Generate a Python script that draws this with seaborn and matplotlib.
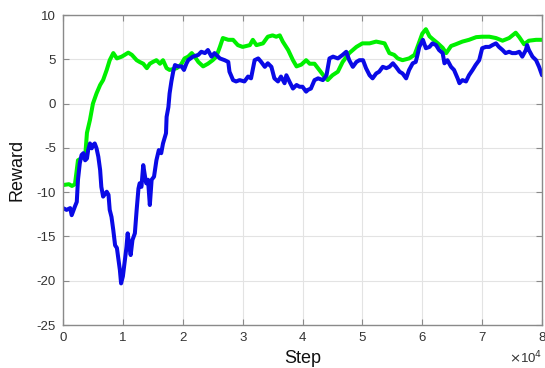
import matplotlib
matplotlib.use("Agg")
import matplotlib.pyplot as plt
import matplotlib.ticker as mticker
import pandas as pd
import seaborn as sns

# Training reward curves (step in units of 1e4)
green_step = [0, 0.1, 0.15, 0.2, 0.25, 0.3, 0.37, 0.4, 0.45, 0.5, 0.56, 0.62, 0.67, 0.73,
              0.78, 0.84, 0.9, 0.98, 1.03, 1.09, 1.15, 1.23, 1.28, 1.34, 1.4, 1.45, 1.5,
              1.56, 1.62, 1.67, 1.73, 1.78, 1.9, 1.97, 2.03, 2.09, 2.15, 2.2, 2.26, 2.34,
              2.42, 2.5, 2.56, 2.62, 2.67, 2.76, 2.84, 2.92, 3.0, 3.12, 3.17, 3.23, 3.34,
              3.42, 3.5, 3.56, 3.62, 3.67, 3.76, 3.84, 3.9, 3.98, 4.06, 4.12, 4.2, 4.28,
              4.37, 4.42, 4.5, 4.59, 4.67, 4.78, 4.9, 5.0, 5.12, 5.23, 5.37, 5.45, 5.53,
              5.59, 5.67, 5.78, 5.87, 5.92, 6.0, 6.06, 6.12, 6.17, 6.26, 6.34, 6.4, 6.48,
              6.56, 6.67, 6.78, 6.9, 7.0, 7.12, 7.23, 7.34, 7.45, 7.56, 7.62, 7.7, 7.78,
              7.9, 8.0]
green_reward = [-9.2, -9.1, -9.3, -9.1, -6.4, -6.2, -6.0, -3.3, -1.85, 0.0, 1.15, 2.1, 2.66,
                3.8, 4.9, 5.7, 5.1, 5.3, 5.5, 5.75, 5.5, 4.9, 4.7, 4.5, 4.0, 4.5, 4.7, 4.9,
                4.5, 4.9, 4.0, 3.8, 4.0, 4.4, 5.1, 5.3, 5.7, 5.3, 4.7, 4.2, 4.5, 4.9, 5.3,
                6.4, 7.4, 7.2, 7.2, 6.6, 6.4, 6.6, 7.2, 6.6, 6.8, 7.55, 7.7, 7.55, 7.7, 7.0,
                6.05, 4.9, 4.2, 4.4, 4.9, 4.5, 4.5, 3.8, 3.0, 2.66, 3.2, 3.6, 4.7, 5.7, 6.4,
                6.8, 6.8, 7.0, 6.8, 5.7, 5.5, 5.1, 4.9, 5.1, 5.5, 6.4, 7.9, 8.4, 7.6, 7.3,
                6.8, 6.3, 5.7, 6.5, 6.7, 7.0, 7.2, 7.5, 7.55, 7.55, 7.4, 7.1, 7.4, 8.0, 7.5,
                6.7, 7.1, 7.2, 7.2]

blue_step = [0, 0.06, 0.12, 0.145, 0.2, 0.23, 0.25, 0.28, 0.31, 0.34, 0.37, 0.4, 0.42,
             0.45, 0.48, 0.5, 0.53, 0.56, 0.59, 0.62, 0.64, 0.67, 0.73, 0.76, 0.78, 0.81,
             0.84, 0.87, 0.9, 0.92, 0.95, 0.97, 1.0, 1.03, 1.06, 1.08, 1.1, 1.13, 1.16,
             1.2, 1.23, 1.26, 1.28, 1.31, 1.34, 1.37, 1.39, 1.42, 1.45, 1.48, 1.52, 1.56,
             1.6, 1.64, 1.67, 1.72, 1.73, 1.76, 1.78, 1.81, 1.84, 1.87, 1.92, 1.98, 2.02,
             2.06, 2.09, 2.17, 2.26, 2.31, 2.37, 2.42, 2.48, 2.53, 2.62, 2.7, 2.76, 2.78,
             2.84, 2.89, 2.95, 3.03, 3.09, 3.14, 3.2, 3.26, 3.31, 3.37, 3.42, 3.48, 3.53,
             3.59, 3.64, 3.7, 3.73, 3.78, 3.84, 3.9, 3.95, 4.0, 4.06, 4.09, 4.14, 4.2,
             4.26, 4.34, 4.4, 4.45, 4.51, 4.59, 4.67, 4.73, 4.78, 4.84, 4.9, 4.95, 5.01,
             5.06, 5.12, 5.17, 5.23, 5.28, 5.34, 5.4, 5.45, 5.51, 5.56, 5.62, 5.67, 5.73,
             5.78, 5.84, 5.89, 5.92, 5.95, 6.01, 6.06, 6.12, 6.17, 6.23, 6.28, 6.34, 6.37,
             6.42, 6.48, 6.53, 6.59, 6.62, 6.67, 6.73, 6.78, 6.84, 6.89, 6.95, 7.0, 7.06,
             7.12, 7.17, 7.23, 7.28, 7.34, 7.39, 7.45, 7.5, 7.56, 7.62, 7.67, 7.73, 7.75,
             7.78, 7.84, 7.9, 7.95, 8.0]
blue_reward = [-11.8, -12.0, -11.8, -12.6, -11.6, -11.1, -8.6, -6.75, -5.8, -5.6, -6.4,
               -6.2, -5.25, -4.5, -5.05, -4.7, -4.5, -5.05, -6.0, -7.5, -9.4, -10.5, -9.95,
               -10.3, -12.0, -12.8, -14.3, -16.0, -16.3, -17.3, -18.8, -20.3, -19.5, -17.85,
               -16.2, -14.65, -15.8, -17.1, -15.4, -14.65, -12.0, -9.6, -9.0, -9.4, -6.95,
               -8.25, -9.0, -8.6, -11.45, -8.6, -8.25, -6.4, -5.25, -5.6, -4.5, -3.35, -1.5,
               -0.4, 1.15, 2.5, 3.6, 4.35, 4.2, 4.2, 3.8, 4.5, 4.9, 5.3, 5.5, 5.85, 5.7,
               6.05, 5.3, 5.7, 5.1, 4.9, 4.7, 3.6, 2.65, 2.5, 2.65, 2.5, 3.05, 2.85, 4.9,
               5.1, 4.7, 4.15, 4.55, 4.15, 2.85, 2.5, 3.05, 2.3, 3.2, 2.5, 1.7, 2.1, 1.9,
               1.9, 1.35, 1.55, 1.7, 2.65, 2.85, 2.65, 3.2, 5.1, 5.3, 5.1, 5.5, 5.85, 4.9,
               4.15, 4.7, 4.9, 4.9, 4.0, 3.2, 2.85, 3.4, 3.6, 4.15, 4.0, 4.15, 4.55, 4.15,
               3.6, 3.4, 2.85, 3.8, 4.55, 4.7, 5.5, 6.4, 7.2, 6.25, 6.4, 6.8, 6.6, 6.05,
               5.7, 4.55, 4.9, 4.15, 3.8, 2.85, 2.3, 2.65, 2.5, 3.2, 3.8, 4.35, 4.9, 6.25,
               6.4, 6.4, 6.6, 6.8, 6.4, 6.05, 5.7, 5.85, 5.7, 5.7, 5.85, 5.3, 6.05, 6.6,
               6.05, 5.3, 4.9, 4.15, 3.2]

x_ticks = [0, 1, 2, 3, 4, 5, 6, 7, 8]
y_ticks = [-25, -20, -15, -10, -5, 0, 5, 10]

green_df = pd.DataFrame({"Step": [s * 1e4 for s in green_step], "Reward": green_reward})
blue_df = pd.DataFrame({"Step": [s * 1e4 for s in blue_step], "Reward": blue_reward})

sns.set_style("whitegrid")
plt.rcParams["font.family"] = ["Liberation Sans", "DejaVu Sans"]

fig = plt.figure(figsize=(5.45, 3.68), dpi=100)
ax = fig.add_axes([0.1156, 0.1168, 0.879, 0.8424])

sns.lineplot(data=green_df, x="Step", y="Reward", ax=ax, color="#00f000",
             linewidth=2.9, estimator=None, sort=False)
sns.lineplot(data=blue_df, x="Step", y="Reward", ax=ax, color="#0a0ae6",
             linewidth=2.9, estimator=None, sort=False)

ax.set_xlim(0, 8e4)
ax.set_ylim(-25, 10)
ax.set_xticks([t * 1e4 for t in x_ticks])
ax.xaxis.set_major_formatter(mticker.FuncFormatter(lambda v, p: f"{v / 1e4:g}"))
ax.set_yticks(y_ticks)
ax.yaxis.set_major_formatter(mticker.FuncFormatter(lambda v, p: f"{v:g}"))

ax.grid(True, color="#e3e3e3", linewidth=0.8)
for sp in ax.spines.values():
    sp.set_visible(True)
    sp.set_color("#8a8a8a")
    sp.set_linewidth(1.0)
ax.tick_params(direction="in", length=4, width=0.8, color="#8a8a8a",
               top=True, right=True, left=True, bottom=True,
               labelsize=9.5, labelcolor="#333333", pad=5)

ax.set_xlabel("")
ax.set_ylabel("Reward", fontsize=13, color="#111111", labelpad=8)
fig.text(0.555, 0.027, "Step", ha="center", va="center", fontsize=13, color="#111111")
ax.text(1.0, -0.105, r"$\times$10$^4$", transform=ax.transAxes, ha="right", va="center",
        fontsize=9.5, color="#333333")

fig.savefig("out.png", dpi=100)
